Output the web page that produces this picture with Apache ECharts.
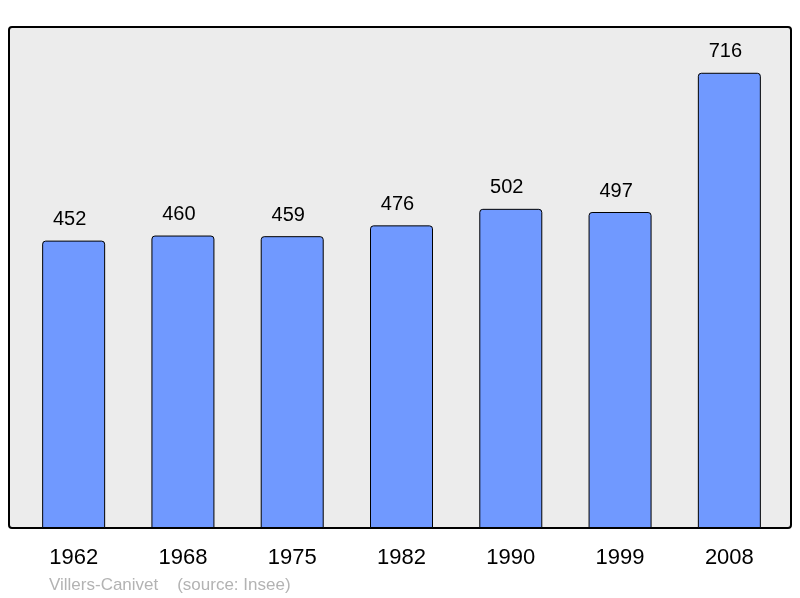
<!DOCTYPE html>
<html>
<head>
<meta charset="utf-8">
<script src="https://cdn.jsdelivr.net/npm/echarts@6/dist/echarts.min.js"></script>
<style>
  html, body { margin: 0; padding: 0; background: #fff; }
  #chart { width: 800px; height: 598px; }
</style>
</head>
<body>
<div id="chart"></div>
<script>
const years = ['1962', '1968', '1975', '1982', '1990', '1999', '2008']
const population = [452, 460, 459, 476, 502, 497, 716]
const footer = 'Villers-Canivet    (source: Insee)'

const chart = echarts.init(document.getElementById('chart'))

chart.setOption({
  animation: false,
  textStyle: {
    fontFamily: 'Liberation Sans, Arial, sans-serif'
  },
  graphic: [
    {
      type: 'rect',
      z: -10,
      shape: { x: 9, y: 27, width: 782, height: 501, r: 3 },
      style: { fill: '#ececec', stroke: '#000', lineWidth: 2 },
      silent: true
    },
    {
      type: 'text',
      left: 49,
      top: 577,
      style: {
        text: footer,
        fill: '#b3b3b3',
        font: '17px Liberation Sans, Arial, sans-serif'
      }
    }
  ],
  grid: {
    left: 19,
    right: 16,
    top: 27,
    bottom: 70,
    containLabel: false
  },
  xAxis: {
    type: 'category',
    data: years,
    axisLine: { show: false },
    axisTick: { show: false },
    axisLabel: {
      color: '#000',
      fontSize: 22,
      margin: 19
    }
  },
  yAxis: {
    type: 'value',
    min: 0,
    max: 788,
    show: false,
    splitLine: { show: false }
  },
  series: [
    {
      type: 'bar',
      data: population,
      barWidth: 63,
      itemStyle: {
        color: '#7099ff',
        borderColor: '#000',
        borderWidth: 1,
        borderRadius: [3, 3, 0, 0]
      },
      label: {
        show: true,
        position: 'top',
        distance: 11,
        offset: [-4, 0],
        color: '#000',
        fontSize: 20
      }
    }
  ]
})
</script>
</body>
</html>
